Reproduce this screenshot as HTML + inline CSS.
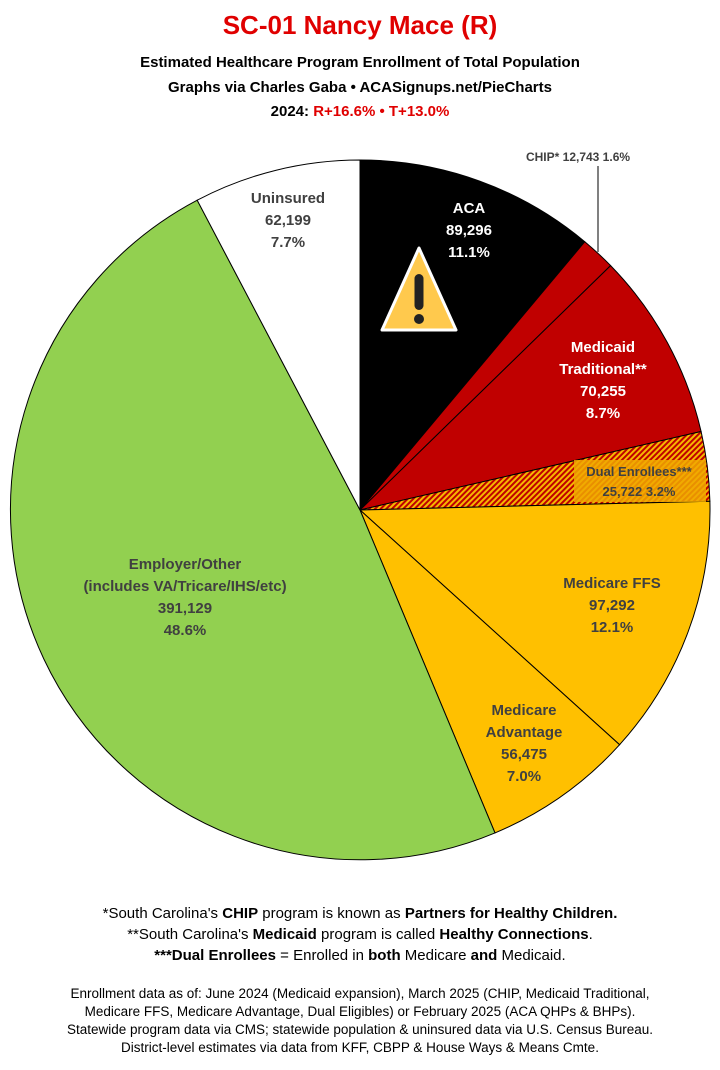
<!DOCTYPE html>
<html><head><meta charset="utf-8"><style>
body{margin:0;width:720px;height:1070px;background:#fff;font-family:"Liberation Sans",sans-serif;overflow:hidden}
svg{position:absolute;left:0;top:0}
</style></head><body>
<svg id="s" width="720" height="1070" viewBox="0 0 720 1070">
<defs>
<pattern id="h" width="4" height="4" patternUnits="userSpaceOnUse" patternTransform="rotate(45)">
<rect width="4" height="4" fill="#f5b800"/><rect width="2" height="4" fill="#c00000"/>
</pattern>
</defs>
<g id="pie"></g>
<line x1="598" y1="166" x2="598" y2="252" stroke="#000" stroke-width="1"/>
<g font-weight="bold" text-anchor="middle">
<text x="360" y="34" font-size="26" fill="#e00000">SC-01 Nancy Mace (R)</text>
<text x="360" y="67" font-size="15" fill="#000">Estimated Healthcare Program Enrollment of Total Population</text>
<text x="360" y="92" font-size="15" fill="#000">Graphs via Charles Gaba  •  ACASignups.net/PieCharts</text>
<text x="360" y="116" font-size="15" fill="#000">2024: <tspan fill="#e00000">R+16.6%  •  T+13.0%</tspan></text>
<text x="578" y="161" font-size="12" fill="#404040">CHIP* 12,743 1.6%</text>
<g font-size="15" fill="#fff">
<text x="469" y="213">ACA</text><text x="469" y="235">89,296</text><text x="469" y="257">11.1%</text>
<text x="603" y="352">Medicaid</text><text x="603" y="374">Traditional**</text><text x="603" y="396">70,255</text><text x="603" y="418">8.7%</text>
</g>
<g font-size="15" fill="#404040">
<text x="288" y="203">Uninsured</text><text x="288" y="225">62,199</text><text x="288" y="247">7.7%</text>
<text x="612" y="588">Medicare FFS</text><text x="612" y="610">97,292</text><text x="612" y="632">12.1%</text>
<text x="524" y="715">Medicare</text><text x="524" y="737">Advantage</text><text x="524" y="759">56,475</text><text x="524" y="781">7.0%</text>
<text x="185" y="569">Employer/Other</text><text x="185" y="591">(includes VA/Tricare/IHS/etc)</text><text x="185" y="613">391,129</text><text x="185" y="635">48.6%</text>
</g>
<rect x="574" y="460" width="132" height="42" fill="#f0a800" opacity="0.85"/>
<text x="639" y="476" font-size="13" fill="#404040">Dual Enrollees***</text>
<text x="639" y="496" font-size="13" fill="#404040">25,722 3.2%</text>
<g font-size="15" fill="#000" font-weight="normal">
<text x="360" y="918">*South Carolina's <tspan font-weight="bold">CHIP</tspan> program is known as <tspan font-weight="bold">Partners for Healthy Children.</tspan></text>
<text x="360" y="939">**South Carolina's <tspan font-weight="bold">Medicaid</tspan> program is called <tspan font-weight="bold">Healthy Connections</tspan>.</text>
<text x="360" y="960"><tspan font-weight="bold">***Dual Enrollees</tspan> = Enrolled in <tspan font-weight="bold">both</tspan> Medicare <tspan font-weight="bold">and</tspan> Medicaid.</text>
</g>
<g font-size="13.5" fill="#000" font-weight="normal">
<text x="360" y="998">Enrollment data as of: June 2024 (Medicaid expansion), March 2025 (CHIP, Medicaid Traditional,</text>
<text x="360" y="1016">Medicare FFS, Medicare Advantage, Dual Eligibles) or February 2025 (ACA QHPs &amp; BHPs).</text>
<text x="360" y="1034">Statewide program data via CMS; statewide population &amp; uninsured data via U.S. Census Bureau.</text>
<text x="360" y="1052">District-level estimates via data from KFF, CBPP &amp; House Ways &amp; Means Cmte.</text>
</g>
</g>
<g transform="translate(419,290)">
<path d="M0,-42 L37,40 L-37,40 Z" fill="#ffc94d" stroke="#fff" stroke-width="3" stroke-linejoin="round"/>
<rect x="-4.5" y="-16" width="9" height="36" rx="4.5" fill="#222"/>
<circle cx="0" cy="29" r="5" fill="#222"/>
</g>
</svg>
<script>
var cx=360,cy=510,r=350;
var sl=[[0.111,"#000"],[0.016,"#c00000"],[0.087,"#c00000"],[0.032,"url(#h)"],[0.121,"#ffc000"],[0.070,"#ffc000"],[0.486,"#92d050"],[0.077,"#fff"]];
var a=0,out="";
function pt(f){var t=f*2*Math.PI;return (cx+r*Math.sin(t)).toFixed(1)+","+(cy-r*Math.cos(t)).toFixed(1);}
sl.forEach(function(s){var b=a+s[0];out+='<path d="M'+cx+','+cy+' L'+pt(a)+' A'+r+','+r+' 0 '+(s[0]>0.5?1:0)+' 1 '+pt(b)+' Z" fill="'+s[1]+'" stroke="#000" stroke-width="1"/>';a=b;});
document.getElementById("pie").innerHTML=out;
</script>
</body></html>
